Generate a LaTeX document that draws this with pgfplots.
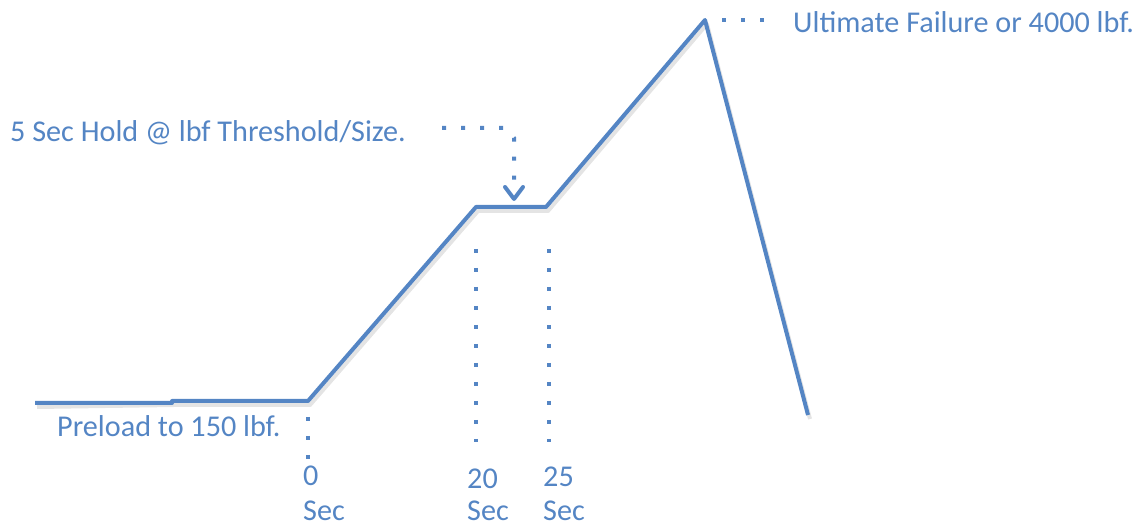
\documentclass[border=0pt]{standalone}
\usepackage{pgfplots}
\pgfplotsset{compat=1.18}
\usepackage{fontspec}
\setmainfont{Carlito}
\definecolor{lblue}{HTML}{5485C4}
\begin{document}
\begin{tikzpicture}
\begin{axis}[
  width=1140bp, height=527bp, scale only axis,
  xmin=0, xmax=1140, ymin=0, ymax=527,
  hide axis, clip=false,
]
\path (rel axis cs:0,0) rectangle (rel axis cs:1,1);
% load profile (pixel coordinates, y measured from bottom)
\addplot[gray!35, line width=4bp, line join=round, opacity=0.6] coordinates
{(37,120) (174,122) (310,122) (478,316) (548,316) (707,503) (810,108)};
\addplot[lblue, line width=4bp, line join=round] coordinates
{(35,124) (172,124) (172,126) (308,126) (476,320) (546,320) (705,507) (808,112)};
% dotted guides
\addplot[lblue, line width=4bp, dash pattern=on 4bp off 15bp] coordinates {(308,110) (308,68)};
\addplot[lblue, line width=4bp, dash pattern=on 4bp off 15bp] coordinates {(476,278) (476,85)};
\addplot[lblue, line width=4bp, dash pattern=on 4bp off 15bp] coordinates {(549,278) (549,85)};
\addplot[lblue, line width=4bp, dash pattern=on 4bp off 15bp] coordinates {(722,507) (775,507)};
\addplot[lblue, line width=4bp, dash pattern=on 4bp off 15bp] coordinates {(442,399) (505,399) (514,389) (514,340)};
\addplot[lblue, line width=4bp, line join=round, line cap=round] coordinates {(505,340) (514,328) (523,340)};
% labels
\begin{scope}[every node/.style={text=lblue, inner sep=0pt, anchor=base west, font=\fontsize{30.3}{35}\selectfont}]
\node at (axis cs:793,494) {Ultimate Failure or 4000 lbf.};
\node at (axis cs:10,385) {5 Sec Hold @ lbf Threshold/Size.};
\node at (axis cs:57,90) {Preload to 150 lbf.};
\node at (axis cs:303,41) {0};
\node at (axis cs:303,7) {Sec};
\node at (axis cs:467,38) {20};
\node at (axis cs:467,7) {Sec};
\node at (axis cs:543,40) {25};
\node at (axis cs:543,7) {Sec};
\end{scope}
\end{axis}
\end{tikzpicture}
\end{document}
